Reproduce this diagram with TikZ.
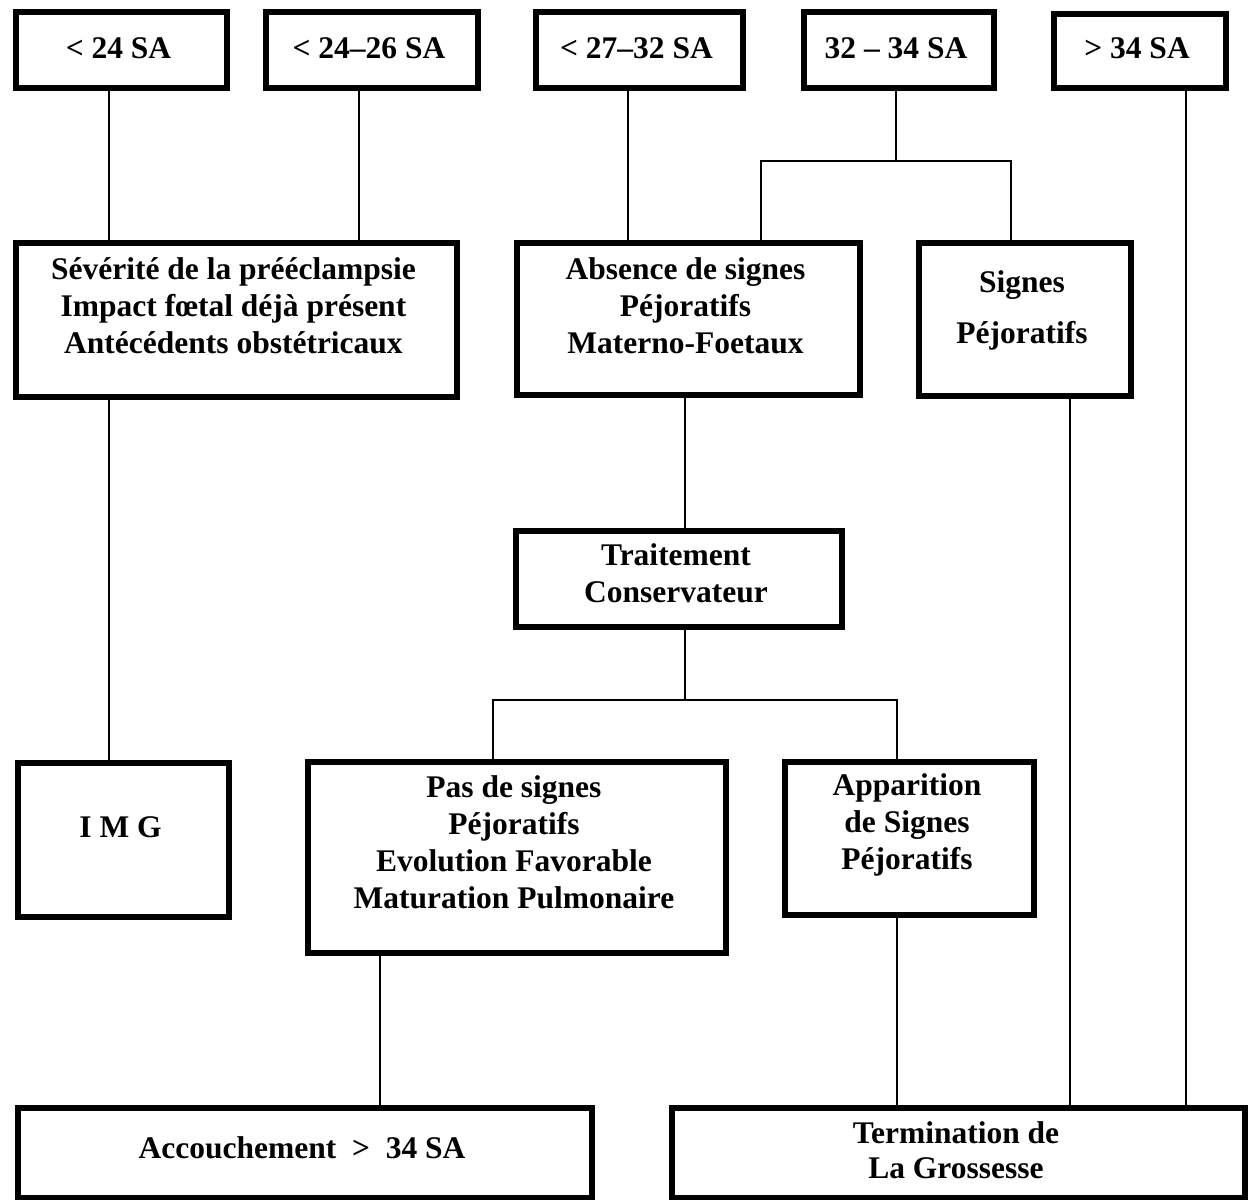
\documentclass[tikz,border=0pt]{standalone}
\usepackage{fontspec}
\setmainfont{Liberation Serif}
\tikzset{
  box/.style={draw, line width=6pt, inner sep=0pt, anchor=north west},
  conn/.style={line width=1.3pt},
  txt/.style={font=\bfseries\fontsize{31.5}{37}\selectfont, align=center, inner sep=0pt},
}
\newcommand\bxnode[5]{\node[box, minimum width={#4-#2-6}, minimum height={#5-#3-6}] (#1) at ({#2+3},{#3+3}) {};}
\newcommand\fl{\rule{0pt}{34pt}}
\begin{document}
\begin{tikzpicture}[x=1pt,y=-1pt]
\useasboundingbox (0,0) rectangle (1255,1199);
% boxes
\bxnode{b1}{10}{6}{227}{88}
\bxnode{b2}{260}{6}{478}{88}
\bxnode{b3}{530}{6}{743}{88}
\bxnode{b4}{798}{6}{994}{88}
\bxnode{b5}{1048}{8}{1226}{88}
\bxnode{sev}{10}{237}{457}{397}
\bxnode{abs}{511}{237}{860}{395}
\bxnode{sig}{913}{237}{1131}{396}
\bxnode{trt}{510}{525}{842}{627}
\bxnode{img}{12}{757}{229}{917}
\bxnode{pas}{302}{756}{726}{953}
\bxnode{app}{779}{756}{1034}{915}
\bxnode{acc}{12}{1102}{592}{1198}
\bxnode{ter}{666}{1102}{1245}{1198}
% texts
\node[txt, anchor=base] (t1) at (118.5,59) {< 24 SA};
\node[txt, anchor=base] (t2) at (369,59) {< 24–26 SA};
\node[txt, anchor=base] (t3) at (636.5,59) {< 27–32 SA};
\node[txt, anchor=base] (t4) at (896,59) {32 – 34 SA};
\node[txt, anchor=base] (t5) at (1137,59) {> 34 SA};
\node[txt, anchor=north] (tsev) at (233.5,245) {\fl Sévérité de la prééclampsie\\Impact fœtal déjà présent\\Antécédents obstétricaux};
\node[txt, anchor=north] (tabs) at (685.5,245) {\fl Absence de signes\\Péjoratifs\\Materno-Foetaux};
\node[txt, anchor=north] (tsig) at (1022,258) {\fl Signes\\[14pt]Péjoratifs};
\node[txt, anchor=north] (ttrt) at (676,531) {\fl Traitement\\Conservateur};
\node[txt, anchor=base] (timg) at (120.5,837) {I M G};
\node[txt, anchor=north] (tpas) at (514,763) {\fl Pas de signes\\Péjoratifs\\Evolution Favorable\\Maturation Pulmonaire};
\node[txt, anchor=north] (tapp) at (907,761) {\fl Apparition\\de Signes\\Péjoratifs};
\node[txt, anchor=base] (tacc) at (302,1158) {Accouchement~~>~~34 SA};
\node[txt, anchor=north] (tter) at (956,1109) {\fl Termination de\\[-2pt]La Grossesse};
% connector x positions
\coordinate (x109) at (109,0);
\coordinate (x359) at (359,0);
\coordinate (x628) at (628,0);
\coordinate (x896) at (896,161);
\coordinate (l1) at (761,161);
\coordinate (r1) at (1011,161);
\coordinate (x1186) at (1186,0);
\coordinate (x1070) at (1070,0);
\coordinate (x685) at (685,700);
\coordinate (l2) at (493,700);
\coordinate (r2) at (897,700);
\coordinate (x380) at (380,0);
% connectors
\draw[conn] (x109 |- b1.south) -- (x109 |- sev.north);
\draw[conn] (x359 |- b2.south) -- (x359 |- sev.north);
\draw[conn] (x628 |- b3.south) -- (x628 |- abs.north);
\draw[conn] (x896 |- b4.south) -- (x896);
\draw[conn] (l1 |- abs.north) -- (l1) -- (r1) -- (r1 |- sig.north);
\draw[conn] (x1186 |- b5.south) -- (x1186 |- ter.north);
\draw[conn] (x109 |- sev.south) -- (x109 |- img.north);
\draw[conn] (x685 |- abs.south) -- (x685 |- trt.north);
\draw[conn] (x1070 |- sig.south) -- (x1070 |- ter.north);
\draw[conn] (x685 |- trt.south) -- (x685);
\draw[conn] (l2 |- pas.north) -- (l2) -- (r2) -- (r2 |- app.north);
\draw[conn] (x380 |- pas.south) -- (x380 |- acc.north);
\draw[conn] (r2 |- app.south) -- (r2 |- ter.north);
\end{tikzpicture}
\end{document}
